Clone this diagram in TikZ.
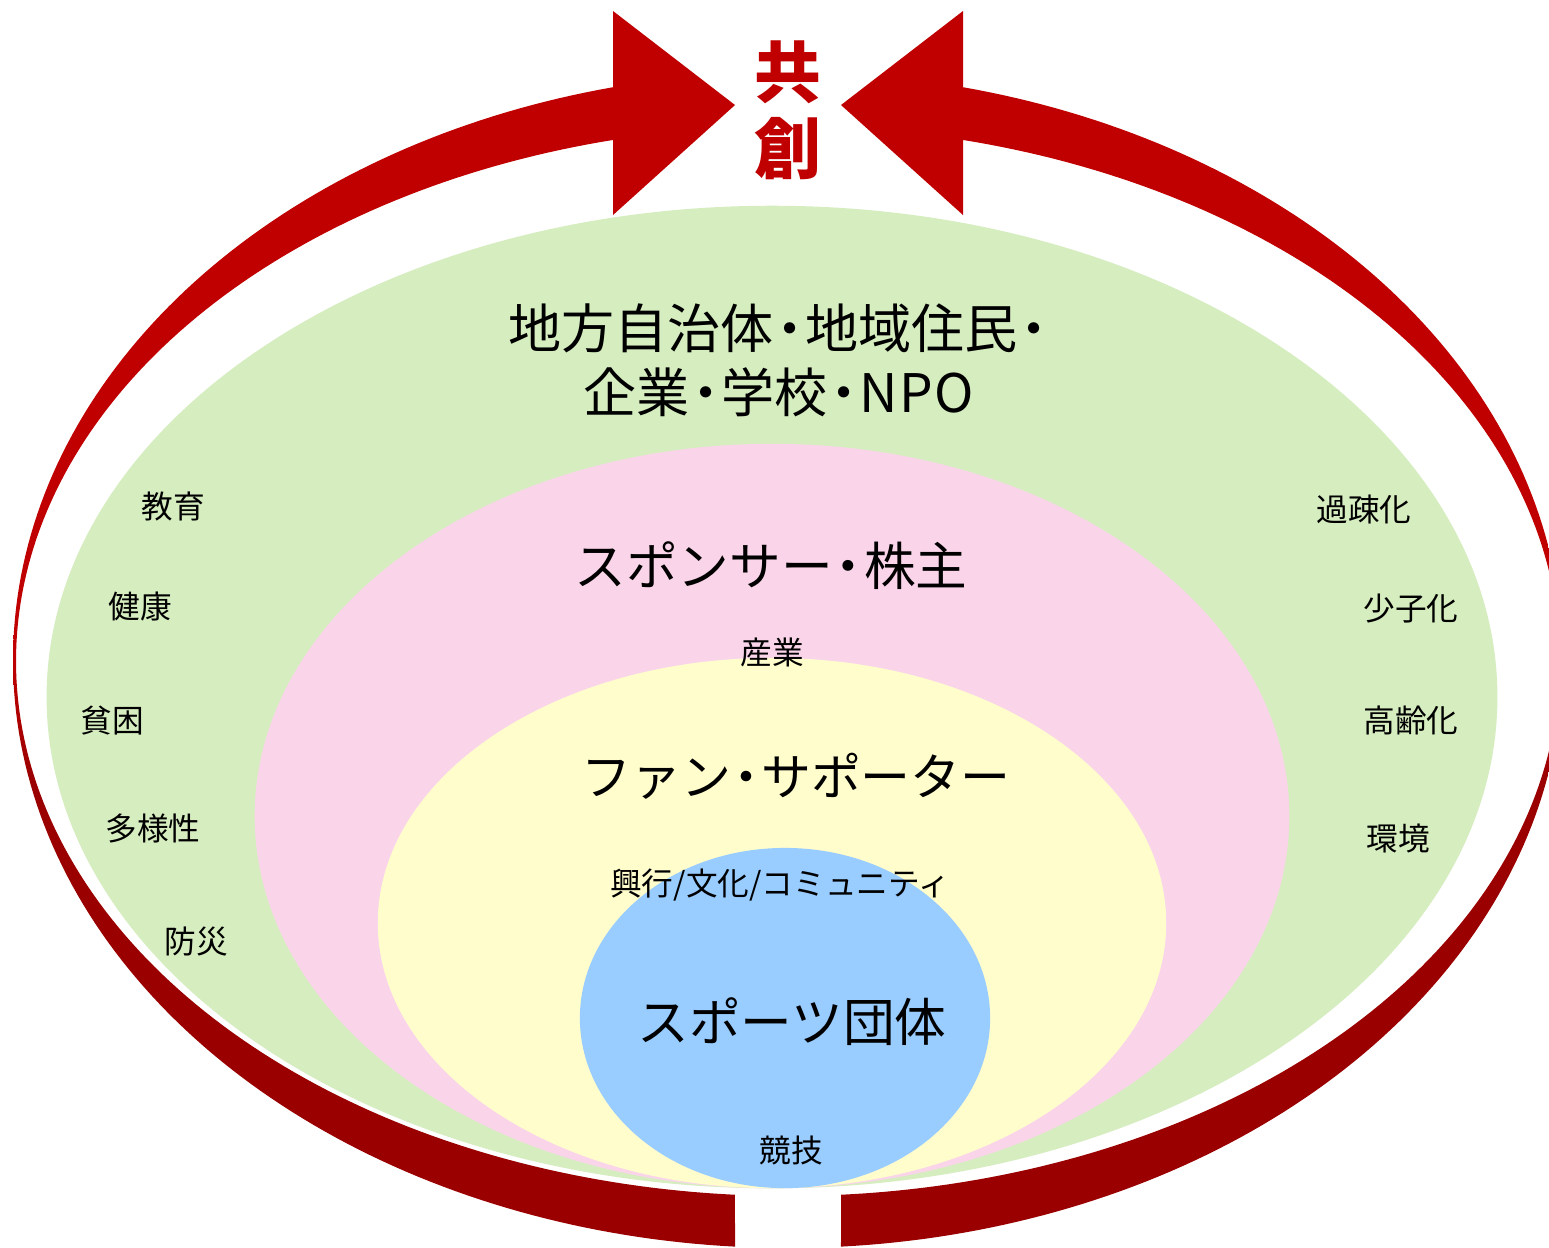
\documentclass[tikz,border=0pt]{standalone}
\usepackage{fontspec}
\setmainfont{Noto Sans CJK JP}
\definecolor{rred}{HTML}{C00000}
\definecolor{dkred}{HTML}{9B0000}
\definecolor{grn}{HTML}{D6EDC0}
\definecolor{pnk}{HTML}{FAD5EA}
\definecolor{ylw}{HTML}{FFFDCC}
\definecolor{blu}{HTML}{99CCFF}
\pgfdeclareverticalshading{redband}{100bp}{color(0bp)=(dkred); color(44bp)=(dkred); color(49bp)=(rred); color(100bp)=(rred)}
\newcommand\nkg{\kern-0.2em・\kern-0.2em}
\tikzset{
  big/.style={font=\fontsize{14.7}{18.1}\selectfont, inner sep=0pt, align=center},
  small/.style={font=\fontsize{9}{11}\selectfont, inner sep=0pt},
  title/.style={font=\fontsize{19}{21.5}\selectfont\bfseries, text=rred, inner sep=0pt, align=center}
}
\begin{document}
\begin{tikzpicture}[x=0.01cm,y=-0.01cm]
\useasboundingbox (0,0) rectangle (1549,1247);
\clip (0,0) rectangle (1549,1247);
\fill[white] (0,0) rectangle (1549,1247);
% nested ellipses
\fill[grn] (772,697) ellipse [x radius=7.25cm, y radius=4.91cm];
\fill[pnk] (772,816) ellipse [x radius=5.17cm, y radius=3.72cm];
\fill[ylw] (772,923) ellipse [x radius=3.94cm, y radius=2.65cm];
\fill[blu] (785,1018) ellipse [x radius=2.05cm, y radius=1.70cm];
% left arrow
\shade[shading=redband]
  plot[domain=93.92:256.95,samples=160,variable=\t] ({788+775*cos(\t)},{660+588*sin(\t)})
  -- plot[domain=256.90:93.94,samples=160,variable=\t] ({788+772*cos(\t)},{661+535*sin(\t)})
  -- cycle
  (613,11) -- (735,105) -- (613,215) -- cycle;
% right arrow
\shade[shading=redband]
  plot[domain=86.08:-76.95,samples=160,variable=\t] ({788+775*cos(\t)},{660+588*sin(\t)})
  -- plot[domain=-76.90:86.06,samples=160,variable=\t] ({788+772*cos(\t)},{661+535*sin(\t)})
  -- cycle
  (963,11) -- (841,105) -- (963,215) -- cycle;
% texts
\node[title] (kyoso) at (788,110) {共\\創};
\node[big, font=\fontsize{15.1}{18.1}\selectfont] (l1) at (779,360) {地方自治体\nkg 地域住民\nkg\\企業\nkg 学校\nkg N\kern0.03em P\kern0.03em O};
\node[big] (l2) at (771,566) {スポンサー\nkg 株主};
\node[big, font=\fontsize{14.2}{18.1}\selectfont] (l3) at (796,776) {ファン\nkg サポーター};
\node[big] (l4) at (792,1022) {スポーツ団体};
\node[small] (s2) at (772,652) {産業};
\node[small] (s3) at (780,885) {興行/文化/コミュニティ};
\node[small] (s4) at (791,1150) {競技};
\node[small] (a1) at (173,506) {教育};
\node[small] (a2) at (140,607) {健康};
\node[small] (a3) at (112,721) {貧困};
\node[small] (a4) at (153,828) {多様性};
\node[small] (a5) at (196,941) {防災};
\node[small] (b1) at (1364,509) {過疎化};
\node[small] (b2) at (1411,609) {少子化};
\node[small] (b3) at (1411,720) {高齢化};
\node[small] (b4) at (1398,838) {環境};
\end{tikzpicture}
\end{document}
